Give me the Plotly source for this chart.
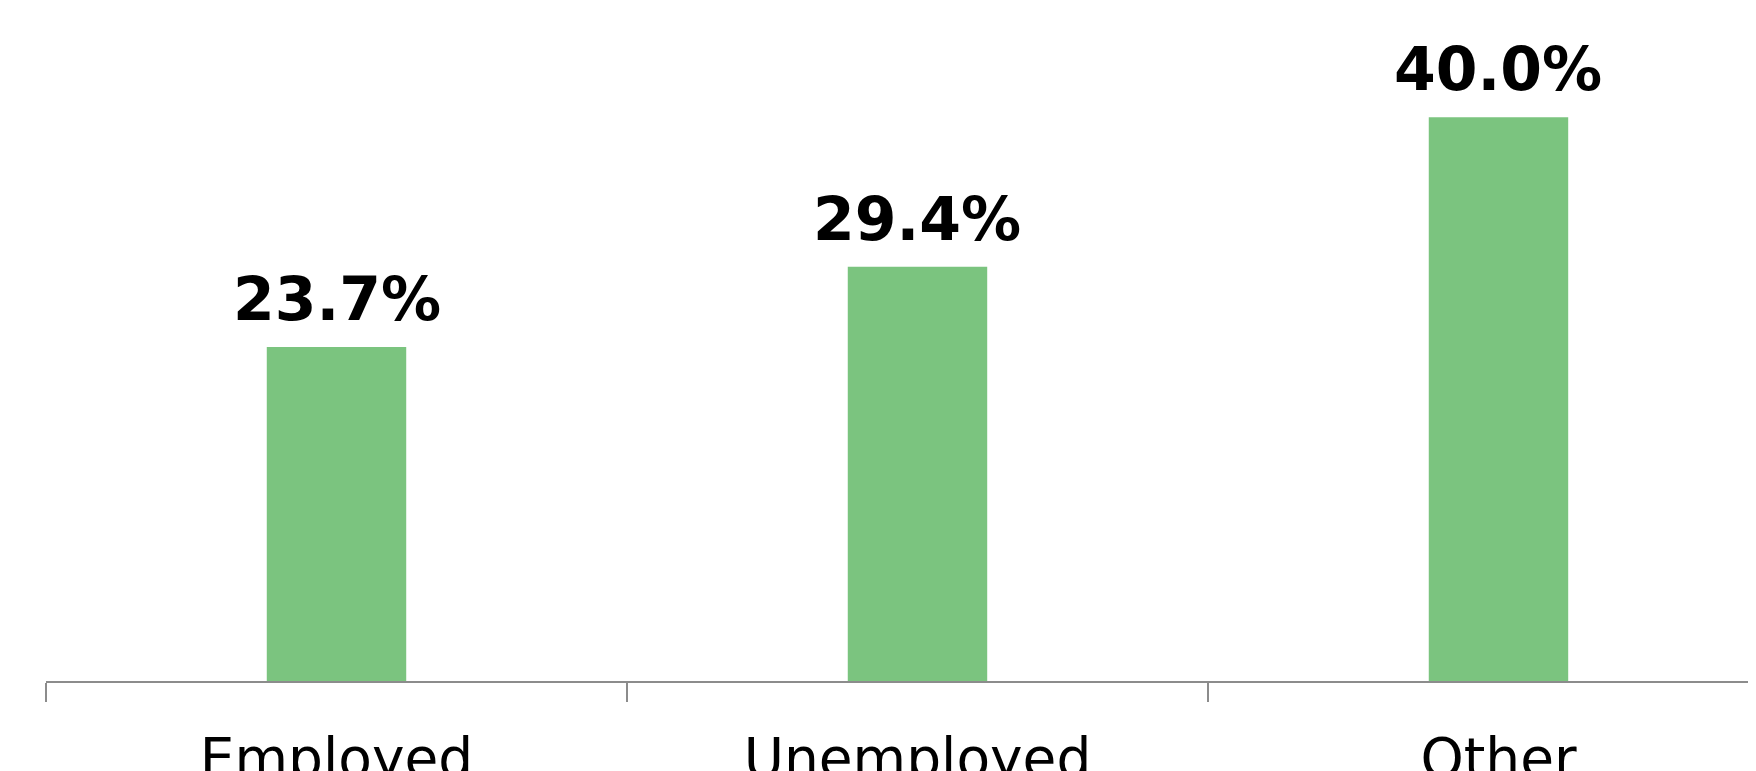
import plotly.graph_objects as go

categories = ["Employed", "Unemployed", "Other"]
values = [23.7, 29.4, 40.0]
labels = ["23.7%", "29.4%", "40.0%"]

BAR_COLOR = "rgb(123,196,127)"
AXIS_COLOR = "#8c8c8c"

fig = go.Figure()
fig.add_trace(go.Bar(
    x=categories,
    y=values,
    marker=dict(color=BAR_COLOR, line=dict(width=0)),
    width=0.24,
    hoverinfo="skip",
))

for c, v, t in zip(categories, values, labels):
    fig.add_annotation(
        x=c, y=v, text="<b>" + t + "</b>",
        showarrow=False, yanchor="bottom", yshift=11,
        font=dict(family="DejaVu Sans", size=60, color="black"),
    )

fig.update_layout(
    width=1756, height=763,
    margin=dict(l=38, r=0, t=0, b=90, pad=0, autoexpand=False),
    paper_bgcolor="white", plot_bgcolor="white",
    showlegend=False,
    font=dict(family="DejaVu Sans", color="black"),
    bargap=0.76,
)
fig.update_xaxes(
    range=[-0.5, 2.457],
    automargin=False,
    tickson="boundaries",
    ticks="outside", ticklen=19, tickwidth=2, tickcolor=AXIS_COLOR,
    showline=True, linecolor=AXIS_COLOR, linewidth=2,
    showgrid=False, zeroline=False,
    ticklabelstandoff=28,
    tickfont=dict(family="DejaVu Sans", size=55, color="black"),
)
fig.update_yaxes(
    range=[0, 47.76],
    automargin=False,
    visible=False, showgrid=False, zeroline=False,
)

fig.write_html("out.html")
